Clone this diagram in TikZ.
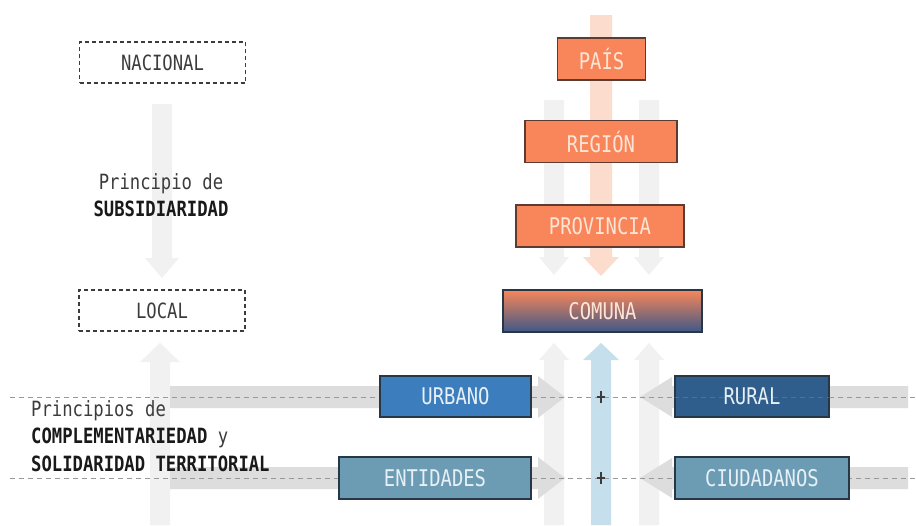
\documentclass[tikz,border=0pt]{standalone}
\usepackage{fontspec}
\setmainfont{DejaVu Sans Mono}[FakeStretch=0.82]
\definecolor{orng}{RGB}{249,134,90}
\definecolor{orngtxt}{RGB}{253,228,212}
\definecolor{obord}{RGB}{92,60,48}
\definecolor{paleor}{RGB}{252,220,205}
\definecolor{paleblue}{RGB}{197,224,236}
\definecolor{vgray}{RGB}{241,241,241}
\definecolor{hgray}{RGB}{221,221,221}
\definecolor{urb}{RGB}{60,125,190}
\definecolor{rur}{RGB}{47,93,140}
\definecolor{ent}{RGB}{108,156,180}
\definecolor{bbord}{RGB}{40,55,70}
\definecolor{btxt}{RGB}{230,240,246}
\definecolor{comblue}{RGB}{62,88,135}
\definecolor{commid}{RGB}{230,124,100}
\definecolor{dgray}{RGB}{60,60,60}
\newcommand\vArrow[7]{\fill[#1] ({#2-#6},#3) -- ({#2-#6},#4) -- ({#2-#7},#4) -- (#2,#5) -- ({#2+#7},#4) -- ({#2+#6},#4) -- ({#2+#6},#3) -- cycle;}
\newcommand\hArrow[7]{\fill[#1] (#3,{#2-#6}) -- (#4,{#2-#6}) -- (#4,{#2-#7}) -- (#5,#2) -- (#4,{#2+#7}) -- (#4,{#2+#6}) -- (#3,{#2+#6}) -- cycle;}
\begin{document}
\begin{tikzpicture}[x=1pt,y=-1pt,
  boxfont/.style={font=\fontsize{23}{25}\selectfont},
  lfont/.style={font=\fontsize{21}{23}\selectfont},
  obox/.style={draw=obord,line width=1.1pt,fill=orng,text=orngtxt,inner sep=0pt,boxfont},
  bbox/.style={draw=bbord,line width=1.1pt,text=btxt,inner sep=0pt,boxfont},
  dbox/.style={draw=dgray,line width=1.1pt,dash pattern=on 4pt off 3pt,inner sep=0pt,minimum width=166pt,minimum height=41pt,text=dgray,lfont},
  guide/.style={draw=gray!80,line width=1pt,dash pattern=on 5pt off 4pt},
  lbl/.style={inner sep=0pt,anchor=west,text=dgray,lfont}]
\useasboundingbox (0,0) rectangle (916,525);
\fill[white] (0,0) rectangle (916,525);
% background block arrows
\vArrow{vgray}{162}{104}{258}{278}{10}{17}
\vArrow{vgray}{160}{525}{362}{343}{10}{20}
\vArrow{vgray}{554}{100}{257}{275}{10}{15}
\vArrow{vgray}{649}{100}{257}{275}{10}{15}
\vArrow{paleor}{601}{15}{257}{276}{11}{18}
\vArrow{vgray}{554}{525}{360}{343}{10}{15}
\vArrow{vgray}{649}{525}{360}{343}{10}{15}
\vArrow{paleblue}{601}{525}{360}{343}{10}{18}
\hArrow{hgray}{397}{170}{538}{565}{11}{21}
\hArrow{hgray}{478}{170}{538}{565}{11}{21}
\hArrow{hgray}{397}{908}{672}{640}{11}{20}
\hArrow{hgray}{478}{908}{672}{640}{11}{20}
% guide lines
\coordinate (g1a) at (10,397); \coordinate (g1b) at (916,397);
\coordinate (g2a) at (10,478); \coordinate (g2b) at (916,478);
\draw[guide] (g1a) -- (g1b);
\draw[guide] (g2a) -- (g2b);
\coordinate (p1) at (601,397); \coordinate (p2) at (601,478);
\draw[dgray,line width=1.2pt] ([yshift=-6pt]p1) -- ([yshift=6pt]p1) ([xshift=-4pt]p1) -- ([xshift=4pt]p1);
\draw[dgray,line width=1.2pt] ([yshift=-6pt]p2) -- ([yshift=6pt]p2) ([xshift=-4pt]p2) -- ([xshift=4pt]p2);
% left column
\node[dbox] (nac) at (162.5,62.5) {NACIONAL};
\node[dbox] (loc) at (162,310.5) {LOCAL};
\node[inner sep=0pt,text=dgray,lfont] (sub1) at (161,184) {Principio de};
\node[inner sep=0pt,text=black!90,font=\fontsize{21}{23}\selectfont\bfseries] (sub2) at (161,209) {SUBSIDIARIDAD};
\node[lbl] (c1) at (31,411) {Principios de};
\node[lbl] (c2) at (31,438) {\textcolor{black!90}{\bfseries COMPLEMENTARIEDAD} y};
\node[lbl,text=black!90,font=\fontsize{21}{23}\selectfont\bfseries] (c3) at (31,464) {SOLIDARIDAD TERRITORIAL};
% central column
\node[obox,minimum width=88pt,minimum height=42pt] (pais) at (601.5,59) {PAÍS};
\node[obox,minimum width=152pt,minimum height=42pt] (reg) at (601,141.5) {REGIÓN};
\node[obox,minimum width=168pt,minimum height=42pt] (prov) at (600,226) {PROVINCIA};
\node[bbox,draw=bbord,top color=orng,middle color=commid,bottom color=comblue,text=orngtxt,minimum width=199pt,minimum height=42pt] (com) at (602.5,311) {COMUNA};
% side boxes
\node[bbox,fill=urb,minimum width=151pt,minimum height=41pt] (urb) at (455.5,396.5) {URBANO};
\node[bbox,fill=ent,minimum width=192pt,minimum height=42pt] (ent) at (435,478) {ENTIDADES};
\node[bbox,fill=rur,minimum width=154pt,minimum height=41pt] (rur) at (752,396.5) {RURAL};
\node[bbox,fill=ent,minimum width=174pt,minimum height=42pt] (ciu) at (762,478) {CIUDADANOS};
% faint guide showing through RURAL
\draw[guide,draw opacity=0.35] (rur.west |- g1a) -- (rur.east |- g1a);
\end{tikzpicture}
\end{document}
